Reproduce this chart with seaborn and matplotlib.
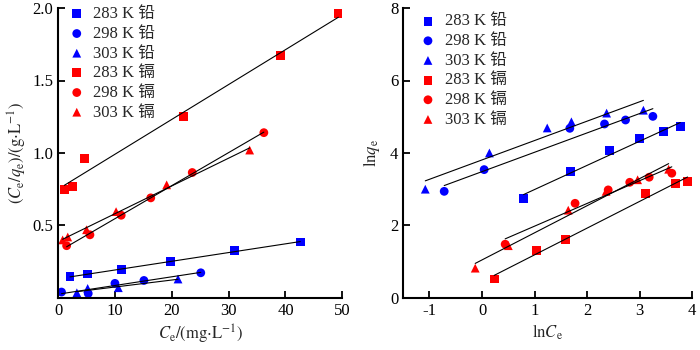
import numpy as np
import matplotlib
matplotlib.use('Agg')
import matplotlib.pyplot as plt
import seaborn as sns

# ------------------------
# data
# ------------------------
labels = ['283 K 铅', '298 K 铅', '303 K 铅', '283 K 镉', '298 K 镉', '303 K 镉']
colors = ['#0000FF', '#0000FF', '#0000FF', '#FF0000', '#FF0000', '#FF0000']
markers = ['s', 'o', '^', 's', 'o', '^']

# left panel: Ce vs Ce/qe
ce_pb283 = [2.1, 5.2, 11.1, 19.8, 31.0, 42.6]
cq_pb283 = [0.145, 0.165, 0.195, 0.25, 0.325, 0.385]
ce_pb298 = [0.6, 5.3, 10.0, 15.1, 25.1]
cq_pb298 = [0.04, 0.03, 0.10, 0.12, 0.173]
ce_pb303 = [3.3, 5.2, 10.6, 21.1]
cq_pb303 = [0.035, 0.065, 0.07, 0.13]
ce_cd283 = [1.1, 2.6, 4.7, 22.0, 39.1, 49.3]
cq_cd283 = [0.75, 0.77, 0.96, 1.25, 1.67, 1.96]
ce_cd298 = [1.5, 5.6, 11.1, 16.3, 23.6, 36.2]
cq_cd298 = [0.36, 0.435, 0.57, 0.69, 0.865, 1.14]
ce_cd303 = [0.8, 1.7, 5.0, 10.2, 19.1, 33.7]
cq_cd303 = [0.40, 0.42, 0.47, 0.595, 0.78, 1.02]

# right panel: lnCe vs lnqe
lnc_pb283 = [0.79, 1.69, 2.43, 2.99, 3.45, 3.77]
lnq_pb283 = [2.75, 3.49, 4.07, 4.40, 4.59, 4.73]
lnc_pb298 = [-0.72, 0.04, 1.67, 2.33, 2.73, 3.25]
lnq_pb298 = [2.94, 3.54, 4.68, 4.80, 4.91, 5.01]
lnc_pb303 = [-1.08, 0.14, 1.24, 1.70, 2.37, 3.07]
lnq_pb303 = [3.0, 4.0, 4.69, 4.86, 5.10, 5.18]
lnc_cd283 = [0.23, 1.03, 1.59, 3.11, 3.68, 3.91]
lnq_cd283 = [0.52, 1.30, 1.62, 2.89, 3.16, 3.21]
lnc_cd298 = [0.44, 1.77, 2.40, 2.81, 3.18, 3.61]
lnq_cd298 = [1.48, 2.61, 2.98, 3.19, 3.33, 3.44]
lnc_cd303 = [-0.13, 0.50, 1.64, 2.36, 2.96, 3.55]
lnq_cd303 = [0.82, 1.44, 2.42, 2.94, 3.26, 3.55]

left_x = [ce_pb283, ce_pb298, ce_pb303, ce_cd283, ce_cd298, ce_cd303]
left_y = [cq_pb283, cq_pb298, cq_pb303, cq_cd283, cq_cd298, cq_cd303]
right_x = [lnc_pb283, lnc_pb298, lnc_pb303, lnc_cd283, lnc_cd298, lnc_cd303]
right_y = [lnq_pb283, lnq_pb298, lnq_pb303, lnq_cd283, lnq_cd298, lnq_cd303]

# ------------------------
# style
# ------------------------
sns.set_theme(style='ticks')
plt.rcParams['font.family'] = ['Liberation Serif', 'Noto Sans CJK SC']
plt.rcParams['mathtext.fontset'] = 'stix'
plt.rcParams['font.size'] = 12
plt.rcParams['axes.unicode_minus'] = False
plt.rcParams['xtick.direction'] = 'in'
plt.rcParams['ytick.direction'] = 'in'

fig = plt.figure(figsize=(7, 3.5), dpi=100)
ax1 = fig.add_axes([0.083, 0.149, 0.406, 0.828])
ax2 = fig.add_axes([0.576, 0.149, 0.413, 0.828])


def draw_panel(ax, xs, ys):
    for x, y, lab, c, m in zip(xs, ys, labels, colors, markers):
        sns.scatterplot(x=x, y=y, ax=ax, color=c, marker=m, s=40,
                        edgecolor='none', label=lab, zorder=2)
        sns.regplot(x=np.array(x), y=np.array(y), ax=ax, scatter=False, ci=None,
                    color='black', line_kws={'lw': 0.8, 'zorder': 3})
    for side in ['top', 'right']:
        ax.spines[side].set_visible(False)
    for side in ['left', 'bottom']:
        ax.spines[side].set_linewidth(1.5)
        ax.spines[side].set_color('black')
    ax.tick_params(axis='both', labelsize=12, length=5, width=1.3, colors='black')


draw_panel(ax1, left_x, left_y)
ax1.set_xlim(0, 50)
ax1.set_ylim(0, 2.0)
ax1.set_xticks([0, 10, 20, 30, 40, 50])
ax1.set_yticks([0.5, 1.0, 1.5, 2.0])
ax1.set_yticklabels(['0.5', '1.0', '1.5', '2.0'])
ax1.set_xlabel(r'$\mathit{C}_\mathrm{e}/(\mathrm{mg{\cdot}L^{-1}})$', fontsize=12, labelpad=3)
ax1.set_ylabel(r'$(\mathit{C}_\mathrm{e}/\mathit{q}_\mathrm{e})/(\mathrm{g{\cdot}L^{-1}})$', fontsize=12, labelpad=2)
ax1.legend(loc='upper left', bbox_to_anchor=(0.007, 1.035), frameon=False, fontsize=12,
           handlelength=1.0, handletextpad=0.5, labelspacing=0.22, borderpad=0)

draw_panel(ax2, right_x, right_y)
ax2.set_xlim(-1.5, 4.0)
ax2.set_ylim(0, 8)
ax2.set_xticks([-1, 0, 1, 2, 3, 4])
ax2.set_yticks([0, 2, 4, 6, 8])
ax2.set_xlabel(r'$\mathrm{ln}\mathit{C}_\mathrm{e}$', fontsize=12, labelpad=3)
ax2.set_ylabel(r'$\mathrm{ln}\mathit{q}_\mathrm{e}$', fontsize=12, labelpad=6)
ax2.legend(loc='upper left', bbox_to_anchor=(0.028, 1.01), frameon=False, fontsize=12,
           handlelength=1.0, handletextpad=0.5, labelspacing=0.22, borderpad=0)

fig.savefig('out.png', dpi=100)
